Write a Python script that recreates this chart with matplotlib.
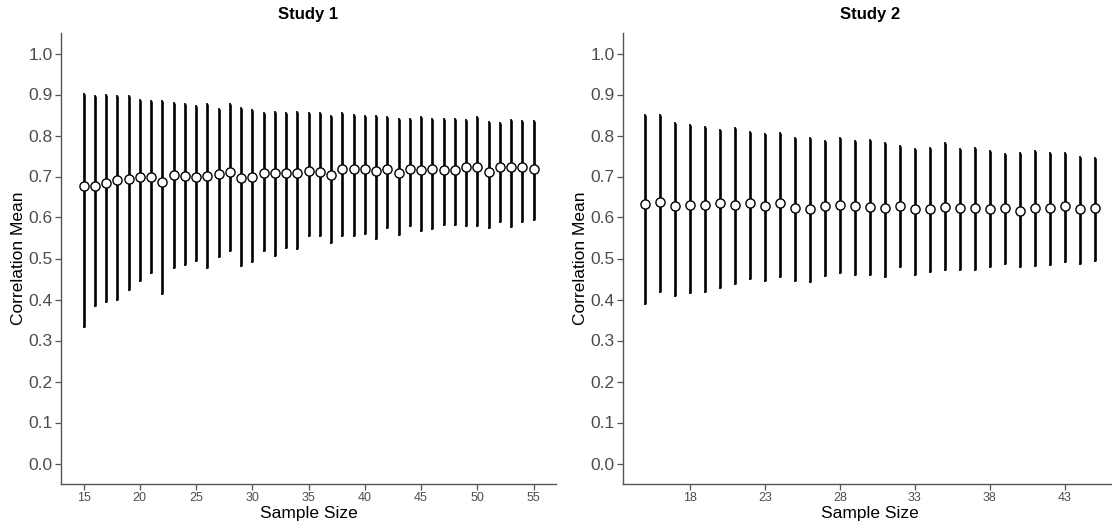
import numpy as np
import matplotlib
matplotlib.use("Agg")
import matplotlib.pyplot as plt

plt.rcParams['font.family'] = ['Liberation Sans', 'DejaVu Sans']

# Study 1: sample sizes 15..55
study1_n = list(range(15, 56))
study1_mean = [0.678, 0.678, 0.684, 0.692, 0.695, 0.698, 0.698, 0.686, 0.703, 0.702,
               0.700, 0.702, 0.705, 0.710, 0.697, 0.700, 0.709, 0.708, 0.708, 0.708,
               0.713, 0.711, 0.704, 0.718, 0.718, 0.718, 0.713, 0.719, 0.708, 0.718,
               0.716, 0.718, 0.716, 0.716, 0.723, 0.722, 0.710, 0.722, 0.722, 0.723,
               0.718]
study1_upper = [0.902, 0.896, 0.899, 0.896, 0.896, 0.886, 0.883, 0.883, 0.880, 0.876,
                0.872, 0.878, 0.864, 0.878, 0.867, 0.862, 0.855, 0.857, 0.854, 0.857,
                0.854, 0.854, 0.848, 0.854, 0.851, 0.848, 0.848, 0.846, 0.840, 0.840,
                0.844, 0.840, 0.840, 0.840, 0.838, 0.846, 0.832, 0.830, 0.838, 0.835,
                0.835]
study1_lower = [0.332, 0.383, 0.394, 0.400, 0.423, 0.444, 0.464, 0.414, 0.476, 0.484,
                0.494, 0.476, 0.504, 0.518, 0.482, 0.491, 0.519, 0.506, 0.526, 0.524,
                0.554, 0.554, 0.537, 0.554, 0.554, 0.560, 0.547, 0.574, 0.558, 0.580,
                0.566, 0.572, 0.582, 0.582, 0.580, 0.580, 0.574, 0.590, 0.578, 0.590,
                0.593]

# Study 2: sample sizes 15..45
study2_n = list(range(15, 46))
study2_mean = [0.633, 0.638, 0.627, 0.631, 0.631, 0.636, 0.631, 0.636, 0.628, 0.636,
               0.622, 0.620, 0.628, 0.631, 0.627, 0.626, 0.623, 0.627, 0.620, 0.621,
               0.626, 0.623, 0.623, 0.620, 0.623, 0.617, 0.623, 0.623, 0.627, 0.620,
               0.623]
study2_upper = [0.851, 0.851, 0.830, 0.825, 0.821, 0.814, 0.818, 0.808, 0.804, 0.806,
                0.793, 0.793, 0.787, 0.793, 0.787, 0.790, 0.781, 0.775, 0.768, 0.769,
                0.781, 0.767, 0.769, 0.762, 0.756, 0.758, 0.761, 0.758, 0.758, 0.748,
                0.745]
study2_lower = [0.390, 0.418, 0.409, 0.415, 0.418, 0.429, 0.437, 0.450, 0.446, 0.455,
                0.445, 0.442, 0.458, 0.465, 0.459, 0.459, 0.455, 0.480, 0.459, 0.468,
                0.471, 0.473, 0.471, 0.480, 0.487, 0.480, 0.482, 0.485, 0.492, 0.486,
                0.494]

panels = [
    ("Study 1", study1_n, study1_mean, study1_lower, study1_upper, list(range(15, 56, 5))),
    ("Study 2", study2_n, study2_mean, study2_lower, study2_upper, list(range(18, 44, 5))),
]

W, H = 1112, 526
fig = plt.figure(figsize=(W / 100, H / 100), dpi=100)

# axes boxes in pixels: left, top, right, bottom
boxes = [(61, 33, 556, 484), (623, 33, 1117, 484)]

axis_grey = '#555555'
label_grey = '#4D4D4D'

for (title, n, m, lo, hi, xt), (l, t, r, b) in zip(panels, boxes):
    ax = fig.add_axes([l / W, 1 - b / H, (r - l) / W, (b - t) / H])
    n = np.array(n)
    m = np.array(m)
    lo = np.array(lo)
    hi = np.array(hi)
    ax.errorbar(n, m, yerr=[m - lo, hi - m], fmt='none', ecolor='black',
                elinewidth=1.9, capsize=0.9, capthick=1.2, zorder=2)
    ax.plot(n, m, 'o', markersize=6.6, markerfacecolor='white',
            markeredgecolor='black', markeredgewidth=1.0, zorder=3)

    span = n.max() - n.min()
    ax.set_xlim(n.min() - 0.05 * span, n.max() + 0.05 * span)
    ax.set_ylim(-0.05, 1.05)
    ax.set_yticks(np.arange(0, 1.01, 0.1))
    ax.set_yticklabels([f'{v:.1f}' for v in np.arange(0, 1.01, 0.1)])
    ax.set_xticks(xt)

    for side in ['top', 'right']:
        ax.spines[side].set_visible(False)
    for side in ['left', 'bottom']:
        ax.spines[side].set_color(axis_grey)
        ax.spines[side].set_linewidth(1.0)

    ax.tick_params(axis='both', direction='out', length=4, width=0.9,
                   color=axis_grey, labelcolor=label_grey)
    ax.tick_params(axis='y', labelsize=12.5, pad=2)
    ax.tick_params(axis='x', labelsize=9, pad=2)

    ax.set_xlabel('Sample Size', fontsize=12.5, labelpad=1)
    ax.set_ylabel('Correlation Mean', fontsize=12.5, labelpad=2)
    ax.set_title(title, fontsize=12, fontweight='bold', pad=10)

fig.savefig('out.png', dpi=100)
